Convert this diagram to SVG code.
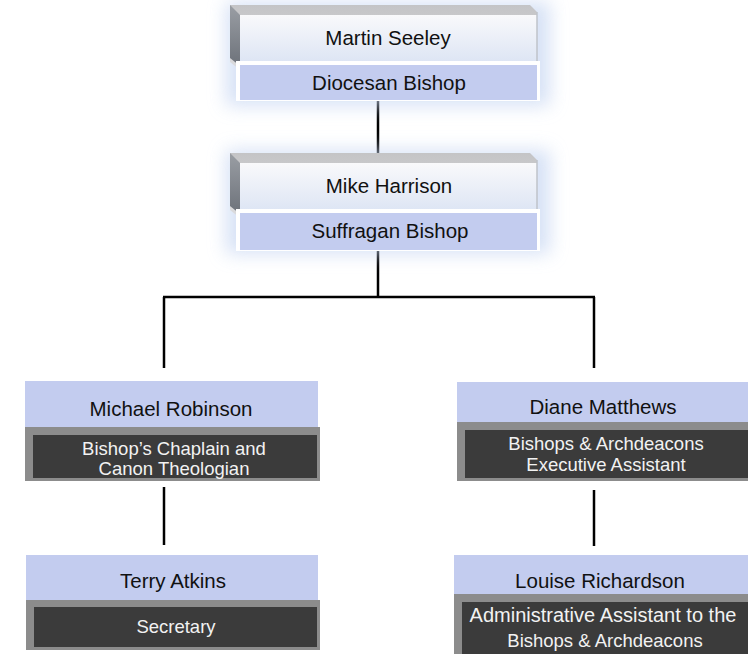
<svg xmlns="http://www.w3.org/2000/svg" width="748" height="654" viewBox="0 0 748 654">
<defs>
<linearGradient id="body" x1="0" y1="0" x2="0" y2="1">
<stop offset="0" stop-color="#f9f9fb"/>
<stop offset="1" stop-color="#dde5f4"/>
</linearGradient>
<linearGradient id="side" x1="0" y1="0" x2="0" y2="1">
<stop offset="0" stop-color="#9a9ea4"/>
<stop offset="1" stop-color="#6d727a"/>
</linearGradient>
<linearGradient id="topf" x1="0" y1="0" x2="0" y2="1">
<stop offset="0" stop-color="#c4c4c6"/>
<stop offset="1" stop-color="#dcdcde"/>
</linearGradient>
<filter id="glow" x="-20%" y="-40%" width="140%" height="180%">
<feGaussianBlur stdDeviation="9"/>
</filter>
</defs>
<style>
.t{font-family:"Liberation Sans",Arial,sans-serif;text-anchor:middle}
.n{font-size:20.5px;fill:#111}
.d{font-size:18.5px;fill:#f2f2f2}
.lav{fill:#c3ccef}
.frame{fill:#8c8c8c}
.inner{fill:#3b3b3b}
.conn{stroke:#000;stroke-width:2.5;fill:none}
.halo{fill:#c9d8f3;opacity:0.75}
</style>
<rect width="748" height="654" fill="#ffffff"/>

<g id="connectors">
<line class="conn" x1="378" y1="100" x2="378" y2="154"/>
<line class="conn" x1="378" y1="250" x2="378" y2="297"/>
<line class="conn" x1="163" y1="297" x2="595" y2="297"/>
<line class="conn" x1="164" y1="297" x2="164" y2="368"/>
<line class="conn" x1="594" y1="297" x2="594" y2="368"/>
<line class="conn" x1="164" y1="487" x2="164" y2="545"/>
<line class="conn" x1="594" y1="490" x2="594" y2="546"/>
</g>

<g id="node-martin-seeley">
<rect class="halo" x="226" y="2" width="324" height="104" filter="url(#glow)"/>
<polygon points="230,5 530,5 537,12 537,70 240,70 230,62" fill="url(#topf)"/>
<polygon points="230,5 240,15 240,66 230,58" fill="url(#side)"/>
<rect x="240" y="15" width="297" height="47" fill="url(#body)"/>
<line x1="537" y1="12" x2="537" y2="70" stroke="#bfc3ca" stroke-width="1.5"/>
<rect x="236" y="61" width="304" height="40" fill="#ffffff"/>
<rect class="lav" x="240" y="65" width="297" height="35"/>
<text class="t n" x="388" y="45">Martin Seeley</text>
<text class="t n" x="389" y="90">Diocesan Bishop</text>
</g>

<g id="node-mike-harrison">
<rect class="halo" x="226" y="150" width="324" height="104" filter="url(#glow)"/>
<polygon points="230,153 530,153 537,160 537,218 240,218 230,210" fill="url(#topf)"/>
<polygon points="230,153 240,163 240,214 230,206" fill="url(#side)"/>
<rect x="240" y="163" width="297" height="48" fill="url(#body)"/>
<line x1="537" y1="160" x2="537" y2="218" stroke="#bfc3ca" stroke-width="1.5"/>
<rect x="236" y="209" width="304" height="42" fill="#ffffff"/>
<rect class="lav" x="240" y="213" width="297" height="37"/>
<text class="t n" x="389" y="193">Mike Harrison</text>
<text class="t n" x="390" y="238">Suffragan Bishop</text>
</g>

<g id="node-michael-robinson">
<rect class="lav" x="25" y="381" width="293" height="46"/>
<rect class="frame" x="25" y="427" width="295" height="54"/>
<rect class="inner" x="33" y="435" width="284" height="43"/>
<text class="t n" x="171" y="416">Michael Robinson</text>
<text class="t d" x="174" y="455">Bishop’s Chaplain and</text>
<text class="t d" x="174" y="475">Canon Theologian</text>
</g>

<g id="node-diane-matthews">
<rect class="lav" x="457" y="382" width="291" height="40"/>
<rect class="frame" x="457" y="422" width="291" height="59"/>
<rect class="inner" x="465" y="430" width="283" height="48"/>
<text class="t n" x="603" y="414">Diane Matthews</text>
<text class="t d" x="606" y="450">Bishops &amp; Archdeacons</text>
<text class="t d" x="606" y="471">Executive Assistant</text>
</g>

<g id="node-terry-atkins">
<rect class="lav" x="26" y="555" width="292" height="45"/>
<rect class="frame" x="26" y="600" width="294" height="50"/>
<rect class="inner" x="34" y="607" width="283" height="40"/>
<text class="t n" x="173" y="588">Terry Atkins</text>
<text class="t d" x="176" y="633">Secretary</text>
</g>

<g id="node-louise-richardson">
<rect class="lav" x="454" y="555" width="294" height="39"/>
<rect class="frame" x="454" y="594" width="294" height="60"/>
<rect class="inner" x="462" y="602" width="286" height="52"/>
<text class="t n" x="600" y="588">Louise Richardson</text>
<text class="t d" x="603" y="622" style="font-size:20px">Administrative Assistant to the</text>
<text class="t d" x="605" y="647">Bishops &amp; Archdeacons</text>
</g>
</svg>
